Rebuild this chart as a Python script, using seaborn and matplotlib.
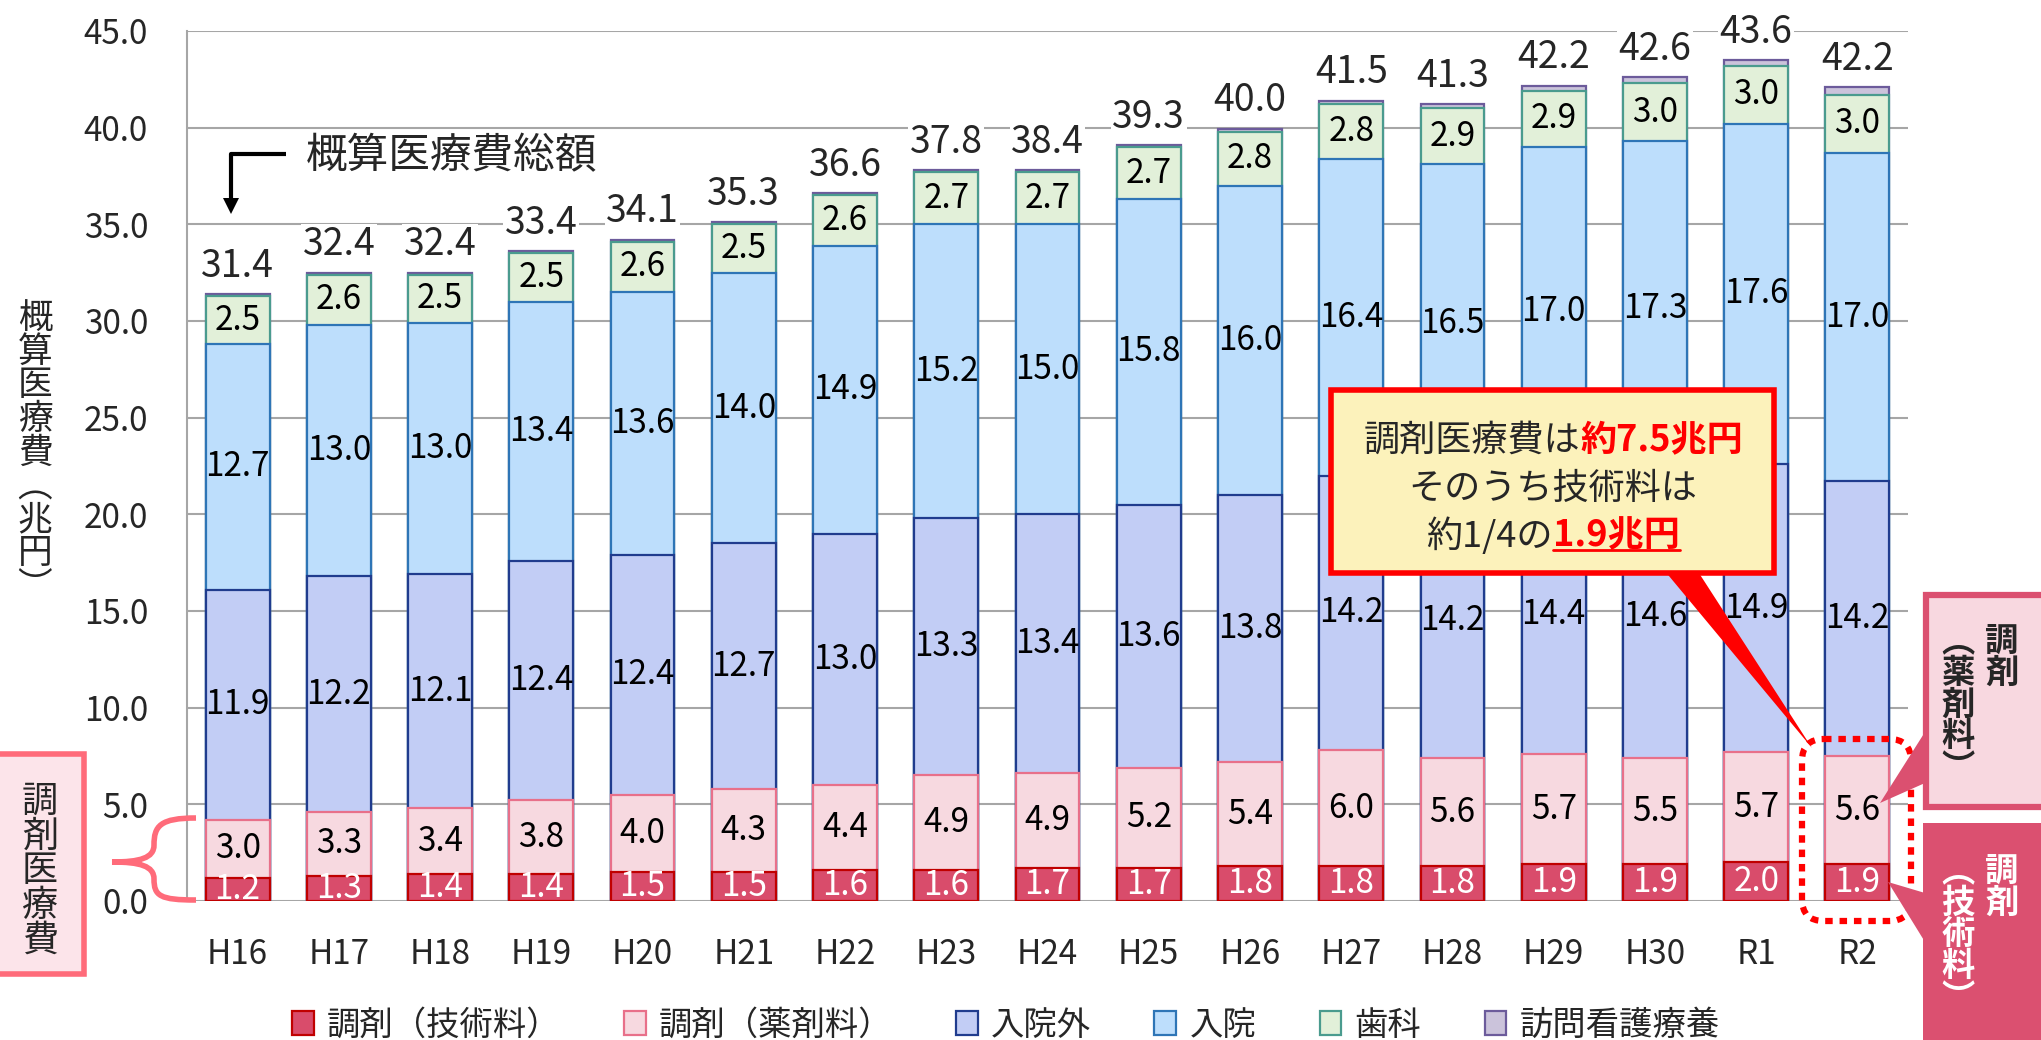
import numpy as np
import pandas as pd
import seaborn as sns
import matplotlib.pyplot as plt
from matplotlib.patches import Polygon, Rectangle, FancyBboxPatch, Patch
from matplotlib.path import Path
from matplotlib.patches import PathPatch

# --- data (兆円) ---
years = ["H16", "H17", "H18", "H19", "H20", "H21", "H22", "H23", "H24",
         "H25", "H26", "H27", "H28", "H29", "H30", "R1", "R2"]
gijutsu = [1.2, 1.3, 1.4, 1.4, 1.5, 1.5, 1.6, 1.6, 1.7, 1.7, 1.8, 1.8, 1.8, 1.9, 1.9, 2.0, 1.9]
yakuzai = [3.0, 3.3, 3.4, 3.8, 4.0, 4.3, 4.4, 4.9, 4.9, 5.2, 5.4, 6.0, 5.6, 5.7, 5.5, 5.7, 5.6]
gairai = [11.9, 12.2, 12.1, 12.4, 12.4, 12.7, 13.0, 13.3, 13.4, 13.6, 13.8, 14.2, 14.2, 14.4, 14.6, 14.9, 14.2]
nyuin = [12.7, 13.0, 13.0, 13.4, 13.6, 14.0, 14.9, 15.2, 15.0, 15.8, 16.0, 16.4, 16.5, 17.0, 17.3, 17.6, 17.0]
shika = [2.5, 2.6, 2.5, 2.5, 2.6, 2.5, 2.6, 2.7, 2.7, 2.7, 2.8, 2.8, 2.9, 2.9, 3.0, 3.0, 3.0]
houmon = [0.1, 0.1, 0.1, 0.1, 0.1, 0.1, 0.1, 0.1, 0.1, 0.1, 0.15, 0.2, 0.2, 0.27, 0.3, 0.3, 0.4]
totals = [31.4, 32.4, 32.4, 33.4, 34.1, 35.3, 36.6, 37.8, 38.4, 39.3, 40.0, 41.5, 41.3, 42.2, 42.6, 43.6, 42.2]

series = ["調剤（技術料）", "調剤（薬剤料）", "入院外", "入院", "歯科", "訪問看護療養"]
fills = ["#D94C6B", "#F7D9E0", "#C2CDF5", "#BDDEFC", "#E2F0D9", "#CBC3DB"]
edges = ["#C00000", "#E8708A", "#203C8E", "#2E75B6", "#4A9B8E", "#6C5B9B"]

df = pd.DataFrame({"年度": years, series[0]: gijutsu, series[1]: yakuzai,
                   series[2]: gairai, series[3]: nyuin, series[4]: shika,
                   series[5]: houmon})
cum = df[series].cumsum(axis=1)
cum["年度"] = years

sns.set_style("white")
plt.rcParams["font.family"] = ["Noto Sans CJK JP", "DejaVu Sans"]

W, H = 2041, 1040
fig = plt.figure(figsize=(W / 100, H / 100), dpi=100)
ax = fig.add_axes([187 / W, 1 - 901 / H, (1908 - 187) / W, (901 - 31) / H])

# stacked bars: draw cumulative totals from the top layer down
for name, fc, ec in reversed(list(zip(series, fills, edges))):
    sns.barplot(data=cum, x="年度", y=name, order=years, color=fc,
                edgecolor=ec, linewidth=1.6, width=0.63, saturation=1,
                errorbar=None, ax=ax, zorder=2)

# segment labels
for i in range(len(years)):
    base = 0
    for k, name in enumerate(series[:5]):
        v = df[name][i]
        ax.text(i, base + v / 2, f"{v:.1f}", ha="center", va="center",
                fontsize=24, color="white" if k == 0 else "black",
                zorder=4, clip_on=True)
        base += v
    top = cum[series[-1]][i]
    ax.text(i, top + 0.9, f"{totals[i]:.1f}", ha="center", va="baseline",
            fontsize=27, zorder=4, clip_on=False,
            bbox=dict(fc="white", ec="none", pad=1))

ax.set_xlim(-0.5, 16.5)
ax.set_ylim(0, 45)
ax.set_yticks(np.arange(0, 46, 5))
ax.set_yticklabels([f"{v:.1f}" for v in np.arange(0, 46, 5)])
ax.set_xlabel("")
ax.set_ylabel("")
ax.grid(axis="y", color="#A6A6A6", linewidth=1.5)
ax.set_axisbelow(True)
for s in ["top", "right", "bottom"]:
    ax.spines[s].set_visible(False)
ax.spines["left"].set_color("#A6A6A6")
ax.spines["left"].set_linewidth(1.5)
ax.tick_params(axis="y", length=0, labelsize=24, pad=28)
ax.tick_params(axis="x", length=0, labelsize=24, pad=26)

# legend
handles = [Patch(facecolor=fc, edgecolor=ec, linewidth=1.6) for fc, ec in zip(fills, edges)]
fig.legend(handles, series, ncol=6, loc="center", bbox_to_anchor=(1006 / W, 1 - 1025 / H),
           frameon=False, fontsize=24, handlelength=0.65, handleheight=0.7,
           handletextpad=0.4, columnspacing=1.9)

# --- overlay annotations in pixel coordinates ---
ov = fig.add_axes([0, 0, 1, 1], zorder=5)
ov.set_xlim(0, W)
ov.set_ylim(H, 0)
ov.axis("off")
renderer = fig.canvas.get_renderer()


def vtext(x, y, s, **kw):
    return ov.text(x, y, "\n".join(s), ha="center", multialignment="center", **kw)


# y axis label
vtext(35, 453, "概算医療費︵兆円︶", va="center", fontsize=25, linespacing=0.95)

# 概算医療費総額 arrow
ov.plot([286, 231, 231], [154, 154, 200], color="black", lw=3, solid_capstyle="butt")
ov.add_patch(Polygon([[223, 198], [239, 198], [231, 214]], closed=True, fc="black", ec="none"))
ov.text(306, 157, "概算医療費総額", ha="left", va="center", fontsize=30)

# left box 調剤医療費 and brace
ov.add_patch(Rectangle((-4, 754), 88, 220, fc="#FCE4EA", ec="#FF6B7A", lw=4, clip_on=False))
vtext(40, 871, "調剤医療費", va="center", fontsize=26, linespacing=0.95)
brace = Path([(196, 818), (160, 818), (154, 826), (154, 845),
              (154, 858), (140, 862), (112, 862),
              (140, 862), (154, 866), (154, 879),
              (154, 896), (160, 900), (196, 900)],
             [Path.MOVETO, Path.CURVE4, Path.CURVE4, Path.CURVE4,
              Path.CURVE4, Path.CURVE4, Path.CURVE4,
              Path.CURVE4, Path.CURVE4, Path.CURVE4,
              Path.CURVE4, Path.CURVE4, Path.CURVE4])
ov.add_patch(PathPatch(brace, fc="none", ec="#FF6B7A", lw=4))

# dotted rounded rectangle around R2 調剤
ov.add_patch(FancyBboxPatch((1802, 739), 109, 182, boxstyle="round,pad=0,rounding_size=22",
                            fc="none", ec="#FF0000", lw=4.5, linestyle=(0, (1.2, 1.1))))

# right boxes
ov.add_patch(Polygon([[1925, 732], [1925, 783], [1880, 803]], closed=True, fc="#DB5070", ec="none"))
ov.add_patch(Rectangle((1926, 595), 130, 212, fc="#F8D8E0", ec="#DB5070", lw=4.5, clip_on=False))
vtext(2002, 625, "調剤", va="top", fontsize=24, fontweight="bold", linespacing=0.95)
vtext(1958, 625, "︵薬剤料︶", va="top", fontsize=24, fontweight="bold", linespacing=0.95)
ov.add_patch(Polygon([[1925, 893], [1925, 942], [1888, 882]], closed=True, fc="#DB5070", ec="none"))
ov.add_patch(Rectangle((1923, 823), 130, 230, fc="#DB5070", ec="none", clip_on=False))
vtext(2002, 855, "調剤", va="top", fontsize=24, fontweight="bold", color="white", linespacing=0.95)
vtext(1958, 855, "︵技術料︶", va="top", fontsize=24, fontweight="bold", color="white", linespacing=0.95)

# callout
ov.add_patch(Polygon([[1664, 570], [1697, 570], [1812, 748]], closed=True, fc="#FF0000", ec="none"))
ov.add_patch(Rectangle((1331, 390), 443, 183, fc="#FCF2BB", ec="#FF0000", lw=4))


def rich_line(pieces, xc, y):
    texts = []
    for s, kw in pieces:
        texts.append(ov.text(0, y, s, ha="left", va="center_baseline", fontsize=26, **kw))
    widths = [t.get_window_extent(renderer).width for t in texts]
    x = xc - sum(widths) / 2
    for t, w in zip(texts, widths):
        t.set_x(x)
        x += w
    return texts


red = dict(color="#FF0000", fontweight="bold")
rich_line([("調剤医療費は", {}), ("約7.5兆円", red)], 1553, 437)
rich_line([("そのうち技術料は", {})], 1553, 485)
line3 = rich_line([("約1/4の", {}), ("1.9兆円", red)], 1553, 532)
bb = line3[1].get_window_extent(renderer)
ov.plot([bb.x0, bb.x1], [550, 550], color="#FF0000", lw=2)

fig.savefig("out.png", dpi=100)
